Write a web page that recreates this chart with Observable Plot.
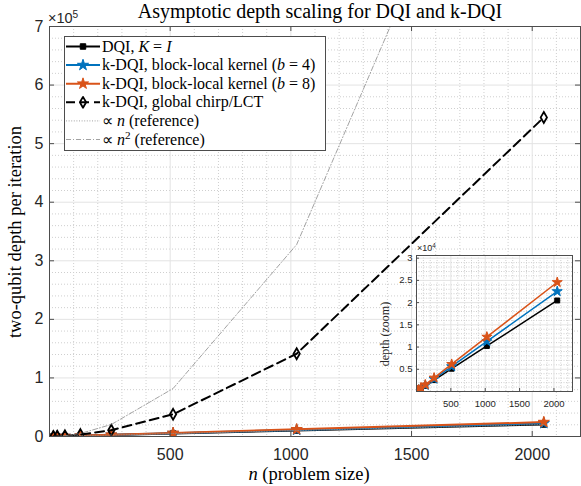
<!DOCTYPE html>
<html>
<head>
<meta charset="utf-8">
<script src="https://cdn.jsdelivr.net/npm/d3@7"></script>
<script src="https://cdn.jsdelivr.net/npm/@observablehq/plot@0.6"></script>
<style>
  body { margin: 0; background: #fff; }
  #chart { position: relative; width: 581px; height: 486px; overflow: hidden; background: #fff; }
  #chart svg { position: absolute; overflow: visible; }
</style>
</head>
<body>
<div id="chart"></div>
<script>
// Problem sizes and per-iteration two-qubit depths
const n = [16, 32, 64, 128, 256, 512, 1024, 2048];
const dqiDepth = [160, 320, 640, 1280, 2560, 5120, 10240, 20480];
const blockB4Depth = [176, 352, 704, 1408, 2816, 5632, 11264, 22528];
const blockB8Depth = [192, 384, 768, 1536, 3072, 6144, 12288, 24576];
const chirpDepth = [192, 448, 1152, 3328, 10752, 37888, 141312, 544768];
const refLinear = [160, 320, 640, 1280, 2560, 5120, 10240, 20480];
const refQuadratic = [80, 320, 1280, 5120, 20480, 81920, 327680, 1310720];

// Tick values
const xTicksMain = [500, 1000, 1500, 2000];
const yTicksMain = [0, 100000, 200000, 300000, 400000, 500000, 600000, 700000];
const xTicksInset = [500, 1000, 1500, 2000];
const yTicksInset = [5000, 10000, 15000, 20000, 25000, 30000];

// Series styling
const series = [
  {key: "dqi", values: dqiDepth, color: "#000000", symbol: "square", fill: "#000000", width: 2, r: 3.1, dash: null, inset: true},
  {key: "b4", values: blockB4Depth, color: "#0072BD", symbol: "star", fill: "#0072BD", width: 2, r: 3.5, dash: null, inset: true},
  {key: "b8", values: blockB8Depth, color: "#D95319", symbol: "star", fill: "#D95319", width: 2, r: 3.5, dash: null, inset: true},
  {key: "chirp", values: chirpDepth, color: "#000000", symbol: "diamond", fill: "none", width: 2, r: 3.3, dash: "9,5", inset: false},
  {key: "refn", values: refLinear, color: "#8a8a8a", symbol: null, width: 0.8, dash: "1,1.6", inset: false},
  {key: "refn2", values: refQuadratic, color: "#8a8a8a", symbol: null, width: 0.8, dash: "5,2,1,2", inset: false}
];
const rows = series.flatMap(s => n.map((v, i) => ({key: s.key, n: v, depth: s.values[i]})));

const W = 581, H = 486;
const M = {top: 26, right: 1, bottom: 50, left: 49};
const FW = W - M.left - M.right, FH = H - M.top - M.bottom;
const axisColor = "#4d4d4d";
const majorGrid = "#e3e3e3", minorGrid = "#cfcfcf";

function seriesMarks(list, widthScale = 1, rScale = 1) {
  const marks = [];
  for (const s of list) {
    const data = rows.filter(d => d.key === s.key);
    marks.push(Plot.line(data, {x: "n", y: "depth", stroke: s.color, strokeWidth: s.width * widthScale,
      strokeDasharray: s.dash ?? undefined, clip: true}));
    if (s.symbol) {
      marks.push(Plot.dot(data, {x: "n", y: "depth", symbol: () => s.symbol, r: s.r * rScale,
        fill: s.fill, stroke: s.color, strokeWidth: s.symbol === "diamond" ? 1.8 : 1, clip: true}));
    }
  }
  return marks;
}

const main = Plot.plot({
  width: W, height: H,
  marginTop: M.top, marginRight: M.right, marginBottom: M.bottom, marginLeft: M.left,
  style: {fontFamily: "'Liberation Sans', Arial, sans-serif", fontSize: "16px", background: "transparent"},
  x: {domain: [0, 2200]},
  y: {domain: [0, 700000]},
  symbol: {type: "identity"},
  marks: [
    Plot.gridX(d3.range(100, 2200, 100).filter(v => v % 500), {stroke: minorGrid, strokeOpacity: 1, strokeDasharray: "1,2"}),
    Plot.gridY(d3.range(20000, 700000, 20000).filter(v => v % 100000), {stroke: minorGrid, strokeOpacity: 1, strokeDasharray: "1,2"}),
    Plot.gridX(xTicksMain, {stroke: majorGrid, strokeOpacity: 1}),
    Plot.gridY(yTicksMain, {stroke: majorGrid, strokeOpacity: 1}),
    ...seriesMarks(series),
    Plot.frame({stroke: axisColor, strokeWidth: 1}),
    Plot.tickX(xTicksMain, {x: d => d, insetTop: FH - 5, stroke: axisColor}),
    Plot.tickX(xTicksMain, {x: d => d, insetBottom: FH - 5, stroke: axisColor}),
    Plot.tickY(yTicksMain, {y: d => d, insetRight: FW - 5, stroke: axisColor}),
    Plot.tickY(yTicksMain, {y: d => d, insetLeft: FW - 5, stroke: axisColor}),
    Plot.axisX({ticks: xTicksMain, tickSize: 0, tickPadding: 12, label: null, color: "#262626",
      tickFormat: d => String(d)}),
    Plot.axisY({ticks: yTicksMain, tickSize: 0, tickPadding: 6, label: null, color: "#262626",
      tickFormat: d => String(d / 1e5)})
  ]
});
main.style.left = "0px";
main.style.top = "0px";

// Zoomed inset of the linear-depth series
const IM = {top: 15, right: 6, bottom: 22, left: 40};
const IW = 202, IH = 173;
const IFW = IW - IM.left - IM.right, IFH = IH - IM.top - IM.bottom;
const inset = Plot.plot({
  width: IW, height: IH,
  marginTop: IM.top, marginRight: IM.right, marginBottom: IM.bottom, marginLeft: IM.left,
  style: {fontFamily: "'Liberation Sans', Arial, sans-serif", fontSize: "9.5px", background: "transparent"},
  x: {domain: [0, 2270]},
  y: {domain: [0, 30600]},
  symbol: {type: "identity"},
  marks: [
    Plot.frame({fill: "#ffffff"}),
    Plot.gridX(d3.range(100, 2270, 100).filter(v => v % 500), {stroke: minorGrid, strokeOpacity: 1, strokeDasharray: "1,1.5"}),
    Plot.gridY(d3.range(1000, 30600, 1000).filter(v => v % 5000), {stroke: minorGrid, strokeOpacity: 1, strokeDasharray: "1,1.5"}),
    Plot.gridX(xTicksInset, {stroke: majorGrid, strokeOpacity: 1}),
    Plot.gridY(yTicksInset, {stroke: majorGrid, strokeOpacity: 1}),
    ...seriesMarks(series.filter(s => s.inset), 0.75, 0.9),
    Plot.frame({stroke: axisColor, strokeWidth: 1}),
    Plot.tickX(xTicksInset, {x: d => d, insetTop: IFH - 3, stroke: axisColor}),
    Plot.tickY(yTicksInset, {y: d => d, insetRight: IFW - 3, stroke: axisColor}),
    Plot.axisX({ticks: xTicksInset, tickSize: 0, tickPadding: 9, label: null, color: "#262626",
      tickFormat: d => String(d)}),
    Plot.axisY({ticks: yTicksInset, tickSize: 0, tickPadding: 4, label: null, color: "#262626",
      tickFormat: d => String(d / 1e4)})
  ]
});
inset.style.left = (416 - IM.left) + "px";
inset.style.top = (255 - IM.top) + "px";

const chart = document.getElementById("chart");
chart.appendChild(main);
chart.appendChild(inset);

// Text layer: title, axis labels, exponents and legend
const serif = "'Liberation Serif', 'Times New Roman', serif";
const sans = "'Liberation Sans', Arial, sans-serif";
const svg = d3.select(chart).append("svg")
  .attr("width", W).attr("height", H)
  .style("left", "0px").style("top", "0px");

function richText(sel, parts) {
  for (const p of parts) {
    const t = sel.append("tspan").text(p.t);
    if (p.i) t.attr("font-style", "italic");
    if (p.sup) t.attr("baseline-shift", "super").attr("font-size", "70%");
  }
  return sel;
}

svg.append("text").attr("x", 320).attr("y", 18).attr("text-anchor", "middle")
  .attr("font-family", serif).attr("font-size", 20).text("Asymptotic depth scaling for DQI and k-DQI");

richText(svg.append("text").attr("x", 309).attr("y", 480).attr("text-anchor", "middle")
  .attr("font-family", serif).attr("font-size", 18.5),
  [{t: "n", i: true}, {t: " (problem size)"}]);

svg.append("text").attr("transform", "translate(21,232) rotate(-90)").attr("text-anchor", "middle")
  .attr("font-family", serif).attr("font-size", 18.5).text("two-qubit depth per iteration");

richText(svg.append("text").attr("x", 48).attr("y", 23).attr("font-family", sans).attr("font-size", 14.5).attr("fill", "#262626"),
  [{t: "×10"}, {t: "5", sup: true}]);

richText(svg.append("text").attr("x", 417).attr("y", 251).attr("font-family", sans).attr("font-size", 9).attr("fill", "#262626"),
  [{t: "×10"}, {t: "4", sup: true}]);

svg.append("text").attr("transform", "translate(389,334) rotate(-90)").attr("text-anchor", "middle")
  .attr("font-family", serif).attr("font-size", 12).attr("fill", "#262626").text("depth (zoom)");

// Legend
const legendEntries = [
  {key: "dqi", parts: [{t: "DQI, "}, {t: "K", i: true}, {t: " = "}, {t: "I", i: true}]},
  {key: "b4", parts: [{t: "k-DQI, block-local kernel ("}, {t: "b", i: true}, {t: " = 4)"}]},
  {key: "b8", parts: [{t: "k-DQI, block-local kernel ("}, {t: "b", i: true}, {t: " = 8)"}]},
  {key: "chirp", parts: [{t: "k-DQI, global chirp/LCT"}]},
  {key: "refn", parts: [{t: "∝ "}, {t: "n", i: true}, {t: " (reference)"}]},
  {key: "refn2", parts: [{t: "∝ "}, {t: "n", i: true}, {t: "2", sup: true}, {t: " (reference)"}]}
];
const lg = svg.append("g").attr("transform", "translate(64,36)");
lg.append("rect").attr("x", 0.5).attr("y", 0.5).attr("width", 261).attr("height", 114)
  .attr("fill", "#fff").attr("stroke", axisColor).attr("stroke-width", 1);
const symbolTypes = {square: d3.symbolSquare, star: d3.symbolStar, diamond: d3.symbolDiamond};
legendEntries.forEach((e, i) => {
  const s = series.find(d => d.key === e.key);
  const cy = 10.5 + i * 18.6;
  lg.append("line").attr("x1", 2).attr("x2", 36).attr("y1", cy).attr("y2", cy)
    .attr("stroke", s.color).attr("stroke-width", s.width).attr("stroke-dasharray", s.dash ?? null);
  if (s.symbol) {
    const r = s.r;
    lg.append("path").attr("transform", `translate(19,${cy})`)
      .attr("d", d3.symbol(symbolTypes[s.symbol], Math.PI * r * r)())
      .attr("fill", s.fill).attr("stroke", s.color).attr("stroke-width", s.symbol === "diamond" ? 1.8 : 1)
      .attr("stroke-linejoin", "round");
  }
  richText(lg.append("text").attr("x", 38).attr("y", cy + 5).attr("font-family", serif).attr("font-size", 16), e.parts);
});
</script>
</body>
</html>
